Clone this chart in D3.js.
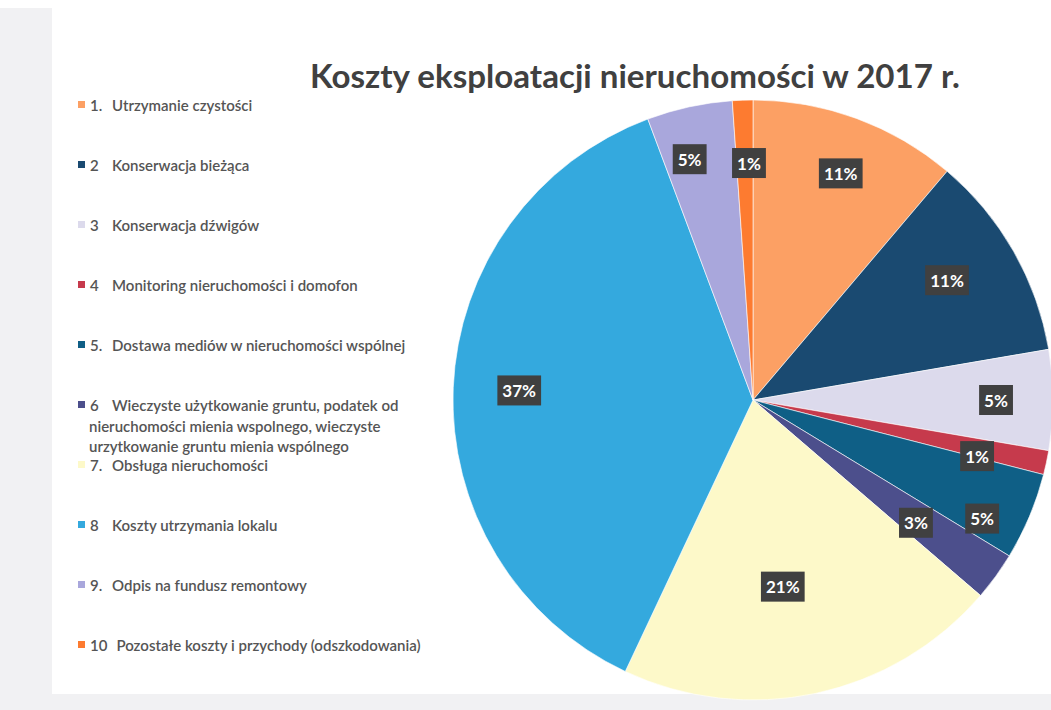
<!DOCTYPE html>
<html>
<head>
<meta charset="utf-8">
<script src="https://cdn.jsdelivr.net/npm/d3@7"></script>
<style>
  html, body { margin: 0; padding: 0; background: #ffffff; }
  svg { display: block; }
</style>
</head>
<body>
<svg id="chart" width="1051" height="710"></svg>
<script>
// ---------- DATA ----------
const title = "Koszty eksploatacji nieruchomości w 2017 r.";
const itemNumbers = ["1.", "2", "3", "4", "5.", "6", "7.", "8", "9.", "10"];
const categories = [
  "Utrzymanie czystości",
  "Konserwacja bieżąca",
  "Konserwacja dźwigów",
  "Monitoring nieruchomości i domofon",
  "Dostawa mediów w nieruchomości wspólnej",
  "Wieczyste użytkowanie gruntu, podatek od\nnieruchomości mienia wspolnego, wieczyste\nurzytkowanie gruntu mienia wspólnego",
  "Obsługa nieruchomości",
  "Koszty utrzymania lokalu",
  "Odpis na fundusz remontowy",
  "Pozostałe koszty i przychody (odszkodowania)"
];
const shares = [11.2, 11.1, 5.4, 1.3, 4.7, 2.6, 20.7, 37.3, 4.6, 1.1];

// ---------- STYLE / LAYOUT ----------
const colors = ["#fca064", "#1a4a71", "#dcdaec", "#c63a4c", "#0f5f86",
                "#4c4f8c", "#fdf9c9", "#34a9de", "#a9a7dc", "#fd7b30"];
const labelRadiusFactor = [0.81, 0.76, 0.81, 0.77, 0.86, 0.68, 0.63, 0.78, 0.83, 0.79];
const labelAngleNudge = [1, -2, 0, 2, 4.5, 1, 3, 0, -2.5, 1]; // degrees

const W = 1051, H = 710;
const svg = d3.select("#chart");

// scanned-page margins
svg.append("rect").attr("x", 0).attr("y", 0).attr("width", W).attr("height", H).attr("fill", "#f1f1f3");
svg.append("rect").attr("x", 52).attr("y", 0).attr("width", W - 52).attr("height", 694)
  .attr("fill", "#ffffff");
svg.append("rect").attr("x", 0).attr("y", 0).attr("width", W).attr("height", 8)
  .attr("fill", "#ffffff");

// ---------- PIE ----------
const cx = 753, cy = 400, R = 300;
const pie = d3.pie().sort(null).value(d => d)
  .startAngle(0).endAngle(2 * Math.PI);
const arcs = pie(shares);
const arc = d3.arc().innerRadius(0).outerRadius(R);

const g = svg.append("g").attr("transform", `translate(${cx},${cy})`);
g.selectAll("path.slice").data(arcs).enter().append("path")
  .attr("class", "slice")
  .attr("d", arc)
  .attr("fill", (d, i) => colors[i])
  .attr("stroke", "#ffffff")
  .attr("stroke-width", 0.6);

// data labels
const total = d3.sum(shares);
const lab = g.selectAll("g.lab").data(arcs).enter().append("g").attr("class", "lab")
  .attr("transform", (d, i) => {
    const a = (d.startAngle + d.endAngle) / 2 + labelAngleNudge[i] * Math.PI / 180;
    const r = R * labelRadiusFactor[i];
    return `translate(${r * Math.sin(a)},${-r * Math.cos(a)})`;
  });
lab.append("rect").attr("fill", "#404040");
lab.append("text")
  .attr("text-anchor", "middle")
  .attr("dominant-baseline", "central")
  .attr("font-family", "Lato, 'Open Sans', sans-serif")
  .attr("font-weight", "bold")
  .attr("font-size", 17)
  .attr("fill", "#ffffff")
  .text(d => Math.round(d.value / total * 100) + "%");
lab.each(function () {
  const t = d3.select(this).select("text").node().getBBox();
  d3.select(this).select("rect")
    .attr("x", t.x - 5).attr("y", -15)
    .attr("width", t.width + 10).attr("height", 30);
});

// ---------- TITLE ----------
const titleText = svg.append("text")
  .attr("x", 310).attr("y", 88)
  .attr("font-family", "Lato, 'Open Sans', sans-serif")
  .attr("font-weight", "bold")
  .attr("font-size", 34)
  .attr("fill", "#404040")
  .text(title);
{
  const w = titleText.node().getComputedTextLength();
  titleText.attr("font-size", 34 * 650 / w);
}

// ---------- LEGEND ----------
const legend = svg.append("g").attr("font-family", "Lato, 'Open Sans', sans-serif")
  .attr("font-size", 15).attr("font-weight", 600).attr("fill", "#555555");
const legY0 = 105, legStep = 60, lineH = 20.5;
categories.forEach((name, i) => {
  const y = legY0 + i * legStep;
  legend.append("rect").attr("x", 78).attr("y", y - 4).attr("width", 7).attr("height", 7)
    .attr("fill", colors[i]);
  const num = legend.append("text").attr("x", 90).attr("y", y)
    .attr("dominant-baseline", "central").text(itemNumbers[i]);
  const numEnd = 90 + num.node().getComputedTextLength();
  const lx = Math.max(112, numEnd + 9);
  name.split("\n").forEach((line, j) => {
    legend.append("text")
      .attr("x", j === 0 ? lx : 89)
      .attr("y", y + j * lineH)
      .attr("dominant-baseline", "central")
      .text(line);
  });
});
</script>
</body>
</html>
